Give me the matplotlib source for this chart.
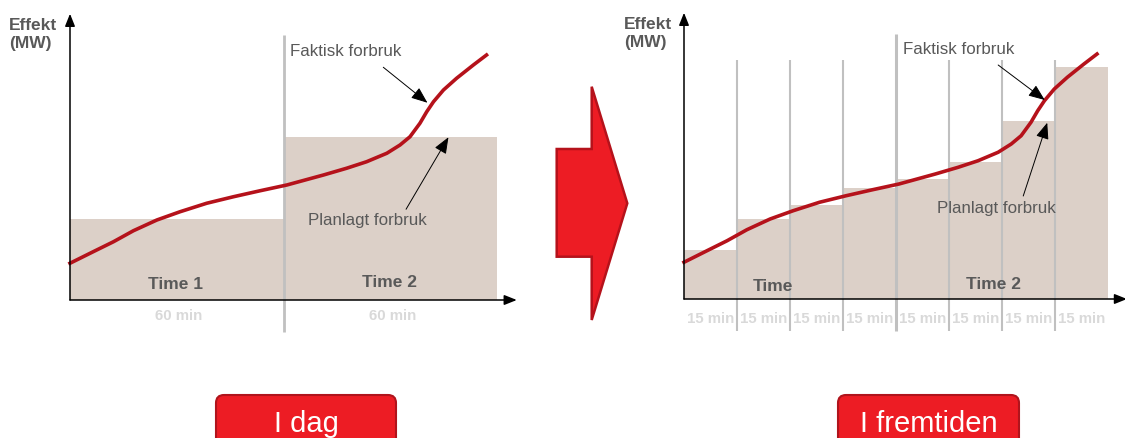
import matplotlib
matplotlib.use("Agg")
import matplotlib.pyplot as plt
from matplotlib.patches import Polygon, FancyBboxPatch

plt.rcParams['font.family'] = ['Liberation Sans', 'DejaVu Sans']

# actual consumption curve (minutes, MW-ish units), same on both panels
curve_t = [0, 6.5, 12.2, 17.8, 24.4, 30.9, 38.4, 45.9, 53.4, 60.9, 71.2, 77.7,
           83.3, 89.0, 92.7, 95.5, 98.3, 100.2, 102.1, 104.9, 108.6, 113.3, 117.0]
curve_v = [14.7, 19.3, 23.3, 27.7, 32.0, 35.3, 38.7, 41.3, 43.7, 46.0, 50.0, 52.7,
           55.3, 58.7, 62.0, 65.3, 70.7, 75.3, 79.3, 84.0, 88.7, 94.0, 98.0]

# planned consumption per period
hour_plan = [32.4, 65.2]
quarter_plan = [19.6, 32.0, 37.6, 44.4, 47.9, 54.8, 71.3, 92.9]

hour_labels = ["60 min", "60 min"]
quarter_labels = ["15 min"] * 8
button_labels = ["I dag", "I fremtiden"]

W, H = 1125, 438
GRAY = "#595959"
BAR = "#dcd0c8"
LINE = "#c0c0c0"
RED = "#b5121b"

fig = plt.figure(figsize=(W / 100, H / 100), dpi=100)

# overlay in pixel coordinates for decorations
ov = fig.add_axes([0, 0, 1, 1])
ov.set_xlim(0, W)
ov.set_ylim(H, 0)
ov.axis("off")


def panel(ox, oy, sx, sy, xlim=(-19, 130), ylim=(-16, 120)):
    left = (ox + xlim[0] * sx) / W
    bottom = (H - (oy - ylim[0] * sy)) / H
    ax = fig.add_axes([left, bottom, (xlim[1] - xlim[0]) * sx / W,
                       (ylim[1] - ylim[0]) * sy / H])
    ax.set_xlim(*xlim)
    ax.set_ylim(*ylim)
    ax.axis("off")
    return ax


def axes_arrows(ax):
    st = dict(arrowstyle="-|>,head_length=0.75,head_width=0.3", color="black",
              lw=1.1, shrinkA=0, shrinkB=0, mutation_scale=10)
    ax.annotate("", xy=(0, 114.5), xytext=(0, 0), arrowprops=st, zorder=5)
    ax.annotate("", xy=(125.5, 0), xytext=(0, 0), arrowprops=st, zorder=5,
                annotation_clip=False)
    ax.text(-17.1, 106.2, "Effekt\n(MW)", fontsize=12.5, fontweight="bold",
            color=GRAY, ha="left", va="center", multialignment="left",
            linespacing=1.2)


def callout(ax, text, txy, start, tip):
    ax.text(txy[0], txy[1], text, fontsize=12.2, color=GRAY, ha="left",
            va="center", zorder=6)
    ax.annotate("", xy=tip, xytext=start, zorder=6,
                arrowprops=dict(arrowstyle="-|>,head_length=1.0,head_width=0.4",
                                color="black", lw=0.7, shrinkA=0, shrinkB=0,
                                mutation_scale=10))


# left panel: 60 min
axL = panel(70, 300, 3.56, 2.5)
axL.bar([0, 60], hour_plan, width=60, align="edge", color=BAR, lw=0, zorder=1)
axL.plot([60, 60], [-12.8, 106], color=LINE, lw=2.0, zorder=2,
         solid_capstyle="butt")
axL.plot(curve_t, curve_v, color=RED, lw=2.6, zorder=3, solid_joinstyle="round")
axes_arrows(axL)
axL.text(29.5, 4.3, "Time 1", fontsize=12.5, fontweight="bold", color=GRAY,
         ha="center", va="baseline")
axL.text(89.7, 5.1, "Time 2", fontsize=12.5, fontweight="bold", color=GRAY,
         ha="center", va="baseline")
for i, lab in enumerate(hour_labels):
    axL.text(30.5 + 60 * i, -8, lab, fontsize=10.8, fontweight="bold",
             color="#d9d9d9", ha="center", va="baseline")
callout(axL, "Faktisk forbruk", (61.8, 99.6), (88.0, 93.1), (100.4, 78.9))
callout(axL, "Planlagt forbruk", (66.9, 32.0), (94.4, 36.3), (106.3, 65.1))

# right panel: 15 min
axR = panel(684, 299, 3.53, 2.5, xlim=(-19, 125.5))
axR.bar([15 * i for i in range(8)], quarter_plan, width=15, align="edge",
        color=BAR, lw=0, zorder=1)
for i in range(1, 8):
    if i == 4:
        axR.plot([60, 60], [-12.8, 106], color=LINE, lw=2.2, zorder=2,
                 solid_capstyle="butt")
    else:
        axR.plot([15 * i, 15 * i], [-12.8, 95.6], color=LINE, lw=1.5, zorder=2,
                 solid_capstyle="butt")
axR.plot(curve_t, curve_v, color=RED, lw=2.6, zorder=3, solid_joinstyle="round")
axes_arrows(axR)
axR.text(25.2, 3.2, "Time", fontsize=12.5, fontweight="bold", color=GRAY,
         ha="center", va="baseline")
axR.text(87.6, 3.9, "Time 2", fontsize=12.5, fontweight="bold", color=GRAY,
         ha="center", va="baseline")
for i, lab in enumerate(quarter_labels):
    axR.text(7.5 + 15 * i, -9.5, lab, fontsize=10.8, fontweight="bold",
             color="#d9d9d9", ha="center", va="baseline")
callout(axR, "Faktisk forbruk", (62.0, 100.0), (89.0, 93.6), (102.2, 79.6))
callout(axR, "Planlagt forbruk", (71.7, 36.0), (96.1, 41.2), (102.9, 70.5))

# big red arrow between panels
ov.add_patch(Polygon([(556.7, 149), (591.7, 149), (591.7, 86.7), (627.3, 203.3),
                      (591.7, 320), (591.7, 256.7), (556.7, 256.7)],
                     closed=True, facecolor="#ed1c24", edgecolor="#b5121b",
                     lw=1.8, joinstyle="miter"))

# buttons
for (x0, x1, cx), lab in zip([(216, 396, 306), (838, 1019, 928.5)], button_labels):
    ov.add_patch(FancyBboxPatch((x0, 395), x1 - x0, 70,
                                boxstyle="round,pad=0,rounding_size=8",
                                facecolor="#ed1c24", edgecolor="#b0141c", lw=1.5))
    ov.text(cx, 432, lab, fontsize=21, color="white", ha="center",
            va="baseline")

fig.savefig("out.png", dpi=100)
